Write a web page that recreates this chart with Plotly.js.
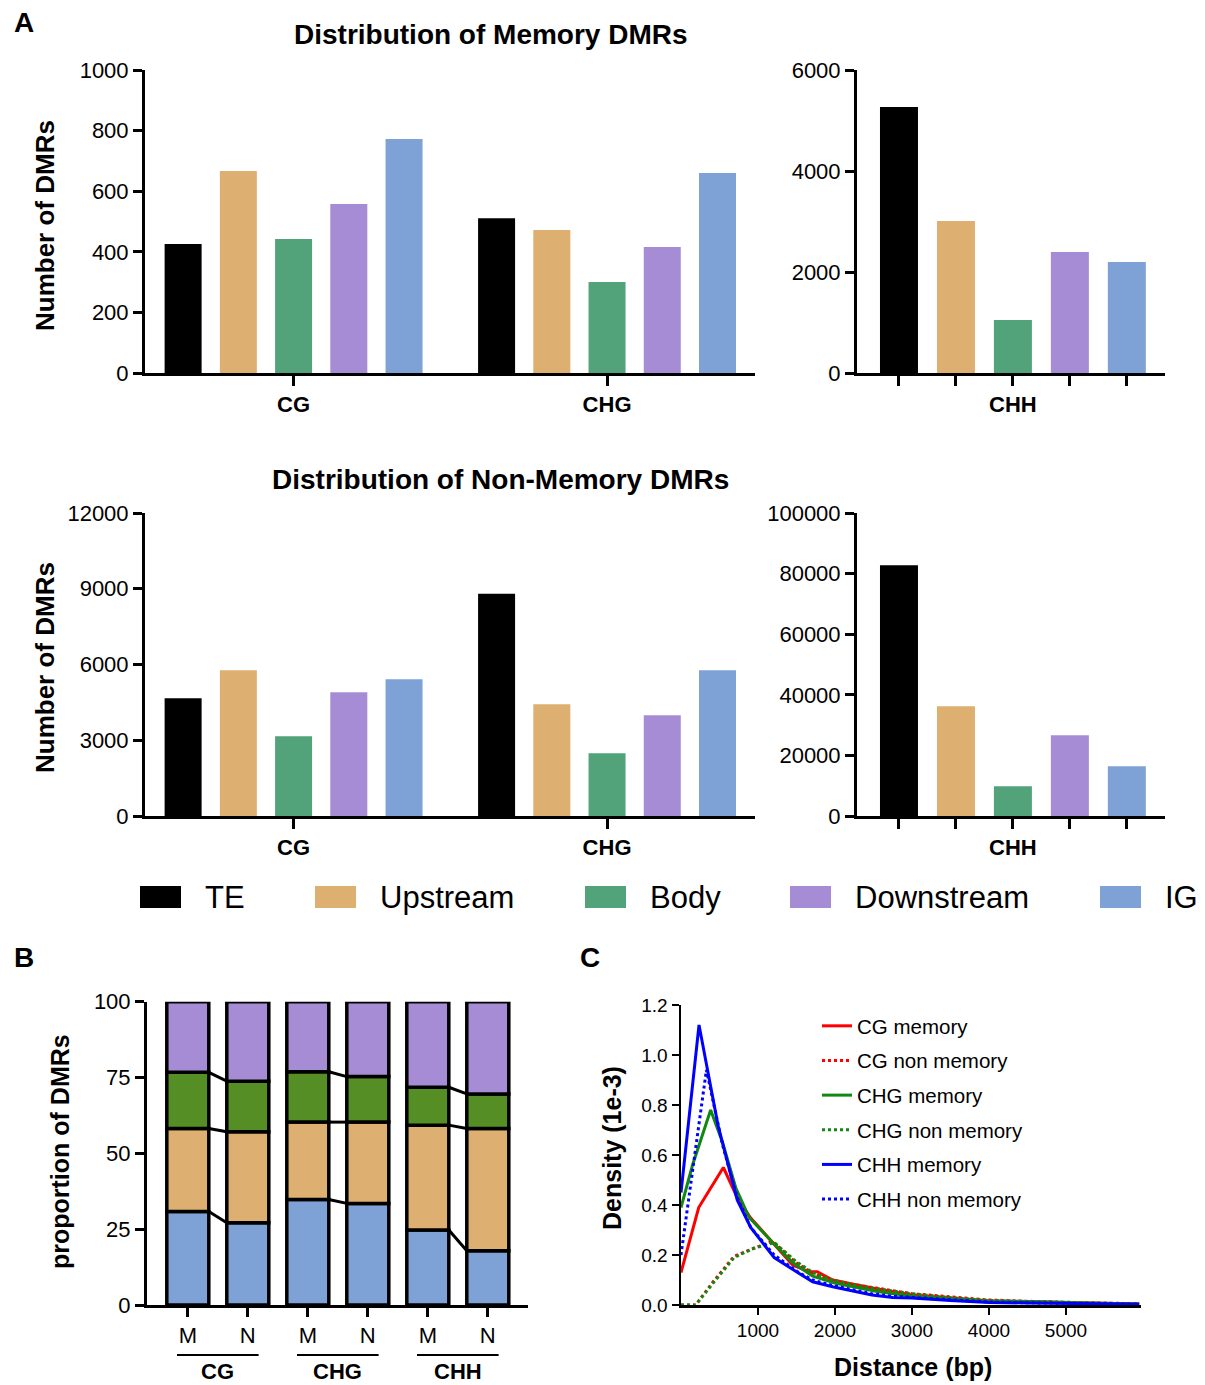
<!DOCTYPE html>
<html>
<head>
<meta charset="utf-8">
<script src="https://cdn.plot.ly/plotly-3.0.1.min.js"></script>
<style>html,body{margin:0;padding:0;background:#fff;}#chart{width:1205px;height:1385px;}</style>
</head>
<body>
<div id="chart"></div>
<script>
// ---------- DATA ----------
const regions = ['TE', 'Upstream', 'Body', 'Downstream', 'IG'];
const leftContexts = ['CG', 'CHG'];
const memoryCG = [426, 667, 442, 558, 772];
const memoryCHG = [511, 472, 300, 416, 660];
const memoryCHH = [5267, 3010, 1050, 2396, 2198];
const nonMemoryCG = [4660, 5769, 3155, 4898, 5413];
const nonMemoryCHG = [8805, 4422, 2482, 3987, 5769];
const nonMemoryCHH = [82728, 36194, 9791, 26623, 16392];

// Panel B (percent of DMRs)
const bLabels = ['M', 'N', 'M', 'N', 'M', 'N'];
const bGroups = ['CG', 'CHG', 'CHH'];
const propIG = [30.8, 27.1, 34.8, 33.5, 24.7, 17.9];
const propUpstream = [27.4, 30.0, 25.5, 26.8, 34.6, 40.3];
const propBody = [18.5, 16.7, 16.6, 15.0, 12.5, 11.4];
const propDownstream = [23.3, 26.2, 23.1, 24.7, 28.2, 30.4];

// Panel C (density, 1e-3)
const cgMemX = [0, 230, 550, 730, 900, 1190, 1450, 1660, 1770, 1970, 2300, 2530, 3000, 3500, 4000, 4500, 5000, 5500, 5950];
const cgMemY = [0.13, 0.39, 0.55, 0.43, 0.35, 0.25, 0.16, 0.133, 0.133, 0.10, 0.08, 0.065, 0.04, 0.028, 0.016, 0.013, 0.009, 0.006, 0.004];
const cgNonX = [0, 190, 410, 690, 930, 1190, 1490, 1710, 1970, 2300, 2530, 3000, 3500, 4000, 4500, 5000, 5500, 5950];
const cgNonY = [0, 0, 0.09, 0.195, 0.225, 0.255, 0.17, 0.127, 0.095, 0.08, 0.068, 0.045, 0.032, 0.02, 0.015, 0.01, 0.007, 0.005];
const chgMemX = [0, 150, 385, 540, 710, 885, 1190, 1450, 1710, 2010, 2530, 3000, 3500, 4000, 4500, 5000, 5500, 5950];
const chgMemY = [0.39, 0.56, 0.78, 0.65, 0.47, 0.35, 0.25, 0.17, 0.115, 0.087, 0.055, 0.035, 0.025, 0.016, 0.014, 0.009, 0.006, 0.004];
const chgNonX = [0, 190, 410, 690, 930, 1210, 1490, 1710, 1970, 2300, 2530, 3000, 3500, 4000, 4500, 5000, 5500, 5950];
const chgNonY = [0, 0, 0.085, 0.19, 0.225, 0.25, 0.175, 0.13, 0.1, 0.078, 0.066, 0.045, 0.03, 0.018, 0.014, 0.01, 0.007, 0.005];
const chhMemX = [0, 234, 480, 730, 905, 1210, 1530, 1710, 1970, 2480, 2750, 3000, 3500, 4000, 4500, 5000, 5500, 5950];
const chhMemY = [0.45, 1.12, 0.72, 0.42, 0.31, 0.19, 0.127, 0.093, 0.073, 0.04, 0.03, 0.028, 0.018, 0.01, 0.008, 0.006, 0.004, 0.003];
const chhNonX = [0, 330, 540, 730, 905, 1210, 1530, 1710, 1970, 2480, 2750, 3000, 3500, 4000, 4500, 5000, 5500, 5950];
const chhNonY = [0.2, 0.94, 0.64, 0.43, 0.31, 0.2, 0.13, 0.1, 0.078, 0.045, 0.035, 0.03, 0.02, 0.012, 0.009, 0.007, 0.005, 0.003];
const distTicks = [1000, 2000, 3000, 4000, 5000];

// ---------- STYLE ----------
const FONT = 'Liberation Sans, Arial, Helvetica, sans-serif';
const regionColors = ['#000000', '#DDAF70', '#52A37A', '#A68CD4', '#7EA2D5'];
const bColors = { IG: '#7EA2D5', Up: '#DDAF70', Body: '#568E26', Down: '#A68CD4' };
const W = 1205, H = 1385;
const px = v => v / W;
const py = v => 1 - v / H;

const traces = [];
// Panel A bars (grouped)
function addLeft(xa, ya, cg, chg) {
  regions.forEach((r, k) => {
    traces.push({
      type: 'bar', name: r, x: leftContexts, y: [cg[k], chg[k]],
      xaxis: xa, yaxis: ya, marker: { color: regionColors[k], line: { width: 0 } },
      showlegend: false, hoverinfo: 'skip'
    });
  });
}
function addRight(xa, ya, vals) {
  traces.push({
    type: 'bar', x: regions, y: vals, xaxis: xa, yaxis: ya, width: 0.667, offset: -0.3335,
    marker: { color: regionColors, line: { width: 0 } }, showlegend: false, hoverinfo: 'skip'
  });
}
addLeft('x', 'y', memoryCG, memoryCHG);
addRight('x2', 'y2', memoryCHH);
addLeft('x3', 'y3', nonMemoryCG, nonMemoryCHG);
addRight('x4', 'y4', nonMemoryCHH);

// Panel B stacked bars using base
const bX = bLabels.map((_, i) => i);
const bW = 0.7;
const segs = [[propIG, bColors.IG], [propUpstream, bColors.Up], [propBody, bColors.Body], [propDownstream, bColors.Down]];
let cum = bX.map(() => 0);
const bounds = [];
segs.forEach(([vals, col]) => {
  traces.push({
    type: 'bar', x: bX, y: vals, base: cum.slice(), xaxis: 'x5', yaxis: 'y5',
    width: bW, offset: -bW / 2, offsetgroup: 'b',
    marker: { color: col, line: { color: 'black', width: 3.5 } }, showlegend: false, hoverinfo: 'skip'
  });
  cum = cum.map((c, i) => c + vals[i]);
  bounds.push(cum.slice());
});
// connector lines between M and N bars
const cx = [], cy = [];
for (let p = 0; p < 3; p++) {
  const i = 2 * p;
  for (let b = 0; b < 3; b++) {
    cx.push(i + bW / 2, i + 1 - bW / 2, null);
    cy.push(bounds[b][i], bounds[b][i + 1], null);
  }
}
traces.push({ type: 'scatter', mode: 'lines', x: cx, y: cy, xaxis: 'x5', yaxis: 'y5',
  line: { color: 'black', width: 3 }, showlegend: false, hoverinfo: 'skip', connectgaps: false });

// Panel C lines
const cSeries = [
  ['CG memory', cgMemX, cgMemY, '#FF0000', 'solid'],
  ['CG non memory', cgNonX, cgNonY, '#FF0000', 'dot'],
  ['CHG memory', chgMemX, chgMemY, '#118811', 'solid'],
  ['CHG non memory', chgNonX, chgNonY, '#118811', 'dot'],
  ['CHH memory', chhMemX, chhMemY, '#0000FF', 'solid'],
  ['CHH non memory', chhNonX, chhNonY, '#0000FF', 'dot']
];
cSeries.forEach(([n, x, y, c, d]) => {
  traces.push({ type: 'scatter', mode: 'lines', name: n, legendgroup: n, x: x, y: y, xaxis: 'x6', yaxis: 'y6',
    line: { color: c, width: 3, dash: d }, showlegend: true, hoverinfo: 'skip' });
});

// ---------- LAYOUT ----------
const ax = (extra) => Object.assign({
  showline: true, linecolor: 'black', linewidth: 3, ticks: 'outside', ticklen: 9, tickwidth: 3,
  tickcolor: 'black', showgrid: false, zeroline: false, fixedrange: true,
  tickfont: { family: FONT, size: 22, color: 'black' }
}, extra);

const boldTick = { family: FONT, size: 22, color: 'black', weight: 'bold' };
const leftDom = [px(145), px(755)];
const rightDom = [px(857), px(1165)];
const topDom = [py(373), py(70)];
const botDom = [py(816), py(513)];

const layout = {
  width: W, height: H, margin: { l: 0, r: 0, t: 0, b: 0 },
  paper_bgcolor: 'white', plot_bgcolor: 'rgba(0,0,0,0)',
  font: { family: FONT, color: 'black' },
  barmode: 'group', bargap: 0.119, bargroupgap: 0.33,
  xaxis: ax({ domain: leftDom, anchor: 'y', type: 'category', range: [-0.474, 1.472], tickfont: boldTick, ticklen: 10 }),
  yaxis: ax({ domain: topDom, anchor: 'x', range: [0, 1000], dtick: 200, tickformat: 'd' }),
  xaxis2: ax({ domain: rightDom, anchor: 'y2', type: 'category', range: [-0.737, 4.67], tickmode: 'array', tickvals: regions, ticktext: ['', '', 'CHH', '', ''], tickfont: boldTick, ticklen: 10 }),
  yaxis2: ax({ domain: topDom, anchor: 'x2', range: [0, 6000], dtick: 2000, tickformat: 'd' }),
  xaxis3: ax({ domain: leftDom, anchor: 'y3', type: 'category', range: [-0.474, 1.472], tickfont: boldTick, ticklen: 10 }),
  yaxis3: ax({ domain: botDom, anchor: 'x3', range: [0, 12000], dtick: 3000, tickformat: 'd' }),
  xaxis4: ax({ domain: rightDom, anchor: 'y4', type: 'category', range: [-0.737, 4.67], tickmode: 'array', tickvals: regions, ticktext: ['', '', 'CHH', '', ''], tickfont: boldTick, ticklen: 10 }),
  yaxis4: ax({ domain: botDom, anchor: 'x4', range: [0, 100000], dtick: 20000, tickformat: 'd' }),
  xaxis5: ax({ domain: [px(147), px(528)], anchor: 'y5', range: [-0.68, 5.67], tickmode: 'array', tickvals: bX, ticktext: bLabels }),
  yaxis5: ax({ domain: [py(1305), py(1001.7)], anchor: 'x5', range: [0, 100], dtick: 25 }),
  xaxis6: ax({ domain: [px(681), px(1141)], anchor: 'y6', range: [0, 5974], tickmode: 'array', tickvals: distTicks, linewidth: 2.5, tickwidth: 2.5, ticklen: 7, tickfont: { family: FONT, size: 19, color: 'black' } }),
  yaxis6: ax({ domain: [py(1305), py(1005)], anchor: 'x6', range: [0, 1.2], dtick: 0.2, tickformat: '.1f', linewidth: 2.5, tickwidth: 2.5, ticklen: 7, tickfont: { family: FONT, size: 19, color: 'black' } }),
  legend: { x: px(817), y: py(1006), xanchor: 'left', yanchor: 'top', font: { family: FONT, size: 20.5, color: 'black' }, bgcolor: 'rgba(0,0,0,0)', itemwidth: 30, tracegroupgap: 5 },
  shapes: [],
  annotations: []
};

const ann = (text, x, y, size, opts) => Object.assign({
  text: text, x: x, y: y, xref: 'paper', yref: 'paper', showarrow: false,
  xanchor: 'center', yanchor: 'middle', font: { family: FONT, size: size, color: 'black', weight: 'bold' }
}, opts || {});

layout.annotations.push(
  ann('A', px(12), py(22), 28, { xanchor: 'left' }),
  ann('B', px(12), py(958), 28, { xanchor: 'left' }),
  ann('C', px(578), py(958), 28, { xanchor: 'left' }),
  ann('Distribution of Memory DMRs', px(491), py(34), 28),
  ann('Distribution of Non-Memory DMRs', px(500), py(479), 28),
  ann('Number of DMRs', px(45), py(226), 26, { textangle: -90 }),
  ann('Number of DMRs', px(45), py(668), 26, { textangle: -90 }),
  ann('proportion of DMRs', px(60), py(1151), 25, { textangle: -90 }),
  ann('Density (1e-3)', px(612), py(1148), 25, { textangle: -90 }),
  ann('Distance (bp)', px(913), py(1367), 25)
);

// Panel B group labels and underlines
bGroups.forEach((g, p) => {
  const i = 2 * p;
  layout.shapes.push({ type: 'line', xref: 'x5', yref: 'paper', x0: i - 0.18, x1: i + 1 + 0.18,
    y0: py(1355), y1: py(1355), line: { color: 'black', width: 2 } });
  layout.annotations.push({ text: g, xref: 'x5', yref: 'paper', x: i + 0.5, y: py(1371), showarrow: false,
    xanchor: 'center', yanchor: 'middle', font: { family: FONT, size: 22, color: 'black', weight: 'bold' } });
});

// Panel A legend row
const legendSwatchX = [140, 315, 585, 790, 1100];
regions.forEach((r, k) => {
  const x0 = legendSwatchX[k];
  layout.shapes.push({ type: 'rect', xref: 'paper', yref: 'paper', x0: px(x0), x1: px(x0 + 41),
    y0: py(908), y1: py(886), fillcolor: regionColors[k], line: { width: 0 } });
  layout.annotations.push({ text: r, xref: 'paper', yref: 'paper', x: px(x0 + 63), y: py(897), showarrow: false,
    xanchor: 'left', yanchor: 'middle', font: { family: FONT, size: 31, color: 'black' } });
});

Plotly.newPlot('chart', traces, layout, { displayModeBar: false, staticPlot: true });
</script>
</body>
</html>
